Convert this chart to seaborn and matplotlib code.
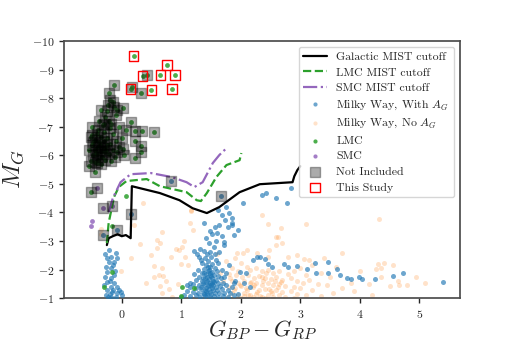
import matplotlib
matplotlib.use("Agg")
import matplotlib.pyplot as plt
import seaborn as sns

# ── Data ───────────────────────────────────────────────────────────────────────
# MIST cutoff tracks
gal_x = [-0.25, -0.22, -0.15, -0.07, 0.00, 0.07, 0.15, 0.17, 0.64, 0.97, 1.19,
         1.43, 1.64, 1.98, 2.32, 2.87, 2.90, 2.95, 3.00]
gal_y = [-2.86, -3.10, -3.17, -3.24, -3.17, -3.21, -3.10, -4.92, -4.68, -4.43,
         -4.15, -3.98, -4.19, -4.71, -4.99, -5.06, -5.27, -5.48, -5.62]

lmc_line_x = [-0.25, -0.22, -0.13, -0.05, 0.08, 0.42, 0.64, 1.09, 1.26, 1.33,
              1.43, 1.59, 1.76, 1.98, 2.01]
lmc_line_y = [-2.93, -3.63, -4.54, -4.89, -5.10, -5.17, -4.92, -4.71, -4.43,
              -4.40, -4.68, -5.24, -5.66, -5.83, -6.08]

smc_line_x = [-0.22, -0.15, -0.02, 0.15, 0.49, 0.84, 1.09, 1.22, 1.36, 1.53,
              1.64, 1.76]
smc_line_y = [-4.01, -4.50, -5.06, -5.34, -5.38, -5.24, -5.06, -4.89, -5.06,
              -5.73, -6.01, -6.25]

# Milky Way, with extinction
mw_x = [-0.22, -0.10, -0.18, -0.25, -0.08, -0.13, -0.22, -0.27, -0.18, -0.25,
        -0.13, -0.18, -0.25, -0.13, -0.18, -0.08, -0.25, -0.17, -0.08, -0.27,
        -0.18, -0.02, 0.00, -0.10, -0.30, -0.20, -0.28, -0.12, -0.20, -0.15,
        -0.23, -0.05, -0.28, -0.15,
        1.68, 1.81, 1.73, 1.64, 1.78, 1.86, 1.56, 1.39, 1.48, 1.52, 1.60, 1.68,
        1.42, 1.58, 1.71, 1.46, 1.55, 1.72, 1.31, 1.22, 1.39, 1.27, 1.48, 1.64,
        1.88, 1.95, 1.62, 1.75, 1.85,
        1.30, 1.40, 1.50, 1.58, 1.45, 1.35, 1.52, 1.62, 1.42, 1.48, 1.56, 1.38,
        1.28, 1.45, 1.52, 1.60, 1.68, 1.35, 1.42, 1.48, 1.55, 1.62, 1.30, 1.40,
        1.46, 1.52, 1.58, 1.66, 1.72, 1.25, 1.35, 1.42, 1.48, 1.55, 1.62, 1.70,
        1.20, 1.30, 1.38, 1.45, 1.50, 1.58, 1.65, 1.75, 1.15, 1.25, 1.33, 1.40,
        1.47, 1.53, 1.60, 1.68, 1.78, 1.10, 1.20, 1.28, 1.36, 1.44, 1.50, 1.57,
        1.64, 1.72, 1.82, 1.05, 1.15, 1.24, 1.32, 1.40, 1.48, 1.55, 1.62, 1.70,
        1.78, 1.88, 1.00, 1.95, 1.85, 1.90, 1.15, 1.10, 1.22, 1.75, 1.80, 1.34,
        1.44, 1.56,
        1.43, 1.47, 1.51, 1.37, 1.41, 1.49, 1.54, 1.44, 1.39, 1.46, 1.52, 1.34,
        1.43, 1.48, 1.36, 1.53, 1.45, 1.41, 1.50, 1.38,
        2.03, 2.35, 2.43, 2.60, 2.77, 2.85, 1.86,
        1.98, 2.08, 1.88, 2.20, 2.27, 2.33, 2.40, 2.45, 2.53, 2.73, 2.80, 2.94,
        3.12, 3.24, 3.27, 3.47, 3.46, 3.61, 3.66, 3.78, 3.86, 3.98, 4.04, 4.26,
        4.55, 4.73, 5.39, 2.05, 2.15]
mw_y = [-2.68, -2.58, -2.44, -2.40, -2.40, -2.26, -2.26, -2.09, -2.05, -1.91,
        -1.81, -1.70, -1.56, -1.53, -1.39, -1.39, -1.28, -1.21, -1.18, -1.11,
        -1.04, -1.21, -1.11, -1.04, -1.45, -1.62, -1.75, -1.95, -1.15, -1.30,
        -1.05, -1.30, -2.55, -2.15,
        -3.91, -3.98, -3.75, -3.56, -3.50, -3.56, -3.50, -3.63, -3.35, -3.24,
        -3.28, -3.17, -3.10, -3.00, -2.98, -2.93, -2.80, -2.86, -2.72, -2.65,
        -2.65, -2.55, -2.62, -2.62, -3.20, -3.40, -4.10, -4.20, -3.80,
        -2.45, -2.40, -2.45, -2.35, -2.30, -2.25, -2.20, -2.25, -2.15, -2.08,
        -2.05, -2.02, -2.00, -1.95, -1.92, -1.95, -2.00, -1.88, -1.85, -1.80,
        -1.82, -1.78, -1.75, -1.72, -1.68, -1.70, -1.65, -1.70, -1.75, -1.65,
        -1.60, -1.58, -1.55, -1.58, -1.55, -1.52, -1.50, -1.48, -1.45, -1.42,
        -1.45, -1.40, -1.42, -1.45, -1.38, -1.35, -1.32, -1.30, -1.33, -1.28,
        -1.30, -1.32, -1.30, -1.25, -1.22, -1.20, -1.18, -1.20, -1.15, -1.18,
        -1.20, -1.18, -1.20, -1.10, -1.08, -1.10, -1.06, -1.08, -1.05, -1.08,
        -1.05, -1.08, -1.05, -1.10, -1.03, -1.15, -1.40, -1.60, -1.55, -1.45,
        -1.85, -1.90, -2.15, -2.35, -2.55, -2.55,
        -1.62, -1.48, -1.36, -1.52, -1.25, -1.22, -1.60, -1.75, -1.90, -1.98,
        -1.55, -1.40, -1.12, -1.90, -1.70, -1.45, -2.10, -1.35, -1.78, -1.15,
        -4.33, -4.60, -4.68, -4.50, -4.33, -4.85, -3.63,
        -1.91, -1.88, -1.53, -2.33, -2.44, -2.44, -2.37, -2.19, -2.09, -2.19,
        -2.09, -2.12, -2.02, -2.23, -1.88, -2.26, -1.88, -2.02, -1.81, -1.70,
        -1.67, -1.74, -1.67, -1.67, -1.77, -1.88, -1.56, -1.55, -1.40]

# Milky Way, no extinction
mw0_x = [0.35, 1.17, 2.35, 2.45, 3.09, 4.33, 2.62, 2.60, -0.35, 0.67, 0.60, 0.65,
         0.59, 0.92, 0.49, 0.82, 0.55, 0.67, 0.54, 0.62, 0.70, 0.74, 0.65, 0.67,
         0.79, -0.02, 0.40, 0.85, 0.30, 1.00, 0.95, 1.05, 0.20, -0.35, 0.15,
         1.17, 1.14, 1.19, 1.02, 0.96, 1.06, 1.11, 2.68, 2.60, 2.70, 2.48, 2.28,
         2.10, 1.93, 2.03, 2.45, 2.79, 3.07,
         1.75, 1.90, 2.00, 2.10, 1.85, 1.95, 2.15, 2.25, 2.35, 2.45, 2.55, 2.65,
         2.80, 2.90, 3.00, 3.10, 3.20, 3.35, 3.50, 3.60, 1.80, 1.92, 2.02, 2.12,
         2.22, 2.30, 2.40, 2.50, 2.60, 2.70, 2.85, 2.95, 3.05, 3.15, 3.30, 3.45,
         1.85, 1.95, 2.05, 2.15, 2.25, 2.35, 2.45, 2.55, 2.65, 2.75, 2.90, 3.00,
         3.20, 1.80, 1.90, 2.00, 2.10, 2.20, 2.30, 2.40, 2.50, 2.60, 2.70, 2.85,
         2.95, 3.10, 1.85, 1.95, 2.05, 2.15, 2.25, 2.35, 2.45, 2.55, 2.65, 2.75,
         2.90, 1.78, 2.00, 2.20, 2.40, 3.35, 3.55, 3.70, 3.85, 4.00, 4.15, 4.30,
         4.40, 4.55, 4.65, 4.80, 4.95, 5.10, 3.90, 4.20, 3.40, 3.70, 2.95, 3.15,
         1.70, 1.65, 1.60, 4.50, 4.66, 4.36, 4.28, 4.36,
         1.88, 2.08, 2.18, 2.28, 2.38, 2.52, 2.62, 1.98, 2.32, 2.42, 2.58, 2.12,
         2.22, 2.48, 1.82, 2.68, 2.05, 2.35]
mw0_y = [-4.33, -4.05, -3.91, -3.59, -3.59, -3.77, -3.14, -2.86, -3.42, -3.31,
         -3.03, -2.95, -2.75, -2.72, -2.51, -2.44, -2.12, -2.05, -1.74, -1.81,
         -1.77, -1.60, -1.42, -1.18, -1.32, -1.95, -1.55, -1.05, -2.90, -2.20,
         -1.50, -3.00, -3.55, -3.25, -2.40,
         -4.08, -3.63, -3.38, -2.79, -2.68, -2.44, -2.16, -3.45, -3.14, -2.93,
         -2.68, -2.58, -2.68, -2.58, -2.58, -2.44, -2.44, -2.37,
         -2.30, -2.40, -2.25, -2.10, -2.05, -1.95, -1.98, -2.05, -1.95, -2.00,
         -1.90, -1.95, -1.85, -1.95, -2.05, -1.80, -2.15, -1.90, -1.75, -2.10,
         -1.85, -1.80, -1.75, -1.82, -1.70, -1.78, -1.72, -1.68, -1.75, -1.65,
         -1.70, -1.62, -1.55, -1.65, -1.50, -1.45, -1.60, -1.55, -1.62, -1.52,
         -1.55, -1.48, -1.52, -1.45, -1.50, -1.42, -1.40, -1.35, -1.30, -1.40,
         -1.35, -1.42, -1.30, -1.38, -1.28, -1.32, -1.25, -1.30, -1.22, -1.25,
         -1.15, -1.12, -1.18, -1.12, -1.20, -1.10, -1.15, -1.05, -1.10, -1.05,
         -1.12, -1.05, -1.02, -1.05, -1.02, -1.03, -1.02, -1.08, -1.20, -1.35,
         -1.55, -1.95, -1.50, -2.20, -2.25, -2.15, -1.60, -1.45, -1.75, -1.55,
         -1.25, -1.10, -2.40, -2.60, -2.50, -2.35, -1.60, -1.90, -2.55, -1.42,
         -1.46, -1.74, -2.02, -2.05,
         -1.28, -1.35, -1.58, -1.22, -1.62, -1.18, -1.40, -1.48, -1.08, -1.88,
         -1.62, -1.12, -1.45, -1.32, -1.70, -1.58, -1.08, -1.75]

# LMC / SMC stars drawn as plain dots (outside the squares)
lmc_x = [0.07, -0.17, -0.17, -0.29, 1.02, 1.00, 1.22]
lmc_y = [-4.57, -3.52, -1.91, -1.39, -1.39, -1.07, -1.35]
smc_x = [-0.50, -0.52]
smc_y = [-3.70, -3.52]

# Not included: squares around LMC stars
excl_lmc_x = [-0.13, -0.22, 0.17, 0.32, 0.42, -0.20, -0.23, -0.13, -0.34, -0.08,
              0.02, 0.15, 0.22, 0.34, 0.55, -0.50, -0.52, 0.08, 0.22, 0.32, 0.32,
              0.02, 0.03, 0.22, -0.55, -0.45, -0.42, -0.52,
              -0.40, -0.45, -0.35, -0.42, -0.30, -0.50, -0.38, -0.28, -0.48,
              -0.33, -0.40, -0.25, -0.45, -0.35, -0.30, -0.40, -0.25, -0.20,
              -0.32, -0.22, -0.28, -0.18, -0.15, -0.10, -0.20, -0.15, -0.22,
              -0.12, -0.05, -0.50, -0.55, -0.52, -0.45, -0.35, -0.28, -0.18,
              -0.08, 0.00, -0.05, -0.10, -0.25, -0.15, -0.30, -0.38, -0.42,
              -0.48, -0.30, -0.36, -0.44, -0.26]
excl_lmc_y = [-8.46, -8.18, -8.39, -8.18, -8.81, -7.93, -7.76, -7.69, -7.58,
              -7.58, -7.65, -7.16, -6.85, -6.85, -6.81, -6.99, -6.64, -6.88,
              -6.50, -6.32, -6.11, -6.22, -6.01, -5.90, -5.62, -5.41, -5.73,
              -4.71,
              -6.30, -6.20, -6.15, -6.05, -6.25, -6.35, -6.45, -6.10, -6.00,
              -5.95, -5.85, -6.35, -6.55, -6.65, -6.80, -6.90, -6.60, -6.95,
              -7.05, -7.20, -7.35, -7.10, -6.75, -6.50, -6.40, -6.20, -6.05,
              -5.95, -6.30, -6.70, -6.20, -5.80, -5.75, -5.70, -5.85, -5.80,
              -6.10, -6.60, -7.00, -7.40, -7.55, -7.85, -7.10, -7.20, -6.75,
              -6.45, -6.50, -6.35, -6.12, -6.20]
excl_smc_x = [-0.42, -0.32, -0.17]
excl_smc_y = [-4.85, -4.15, -4.22]
excl_mw_x = [0.15, -0.32, -0.08, 0.82, 1.66]
excl_mw_y = [-3.94, -3.21, -3.38, -5.10, -4.57]

# This study (LMC stars)
study_x = [0.20, 0.76, 0.35, 0.65, 0.89, 0.15, 0.50, 0.84]
study_y = [-9.47, -9.16, -8.77, -8.81, -8.81, -8.32, -8.28, -8.32]

# ── Style ──────────────────────────────────────────────────────────────────────
sns.set_theme(style="ticks")
plt.rcParams["font.family"] = ["serif"]
plt.rcParams["font.serif"] = ["cmr10", "DejaVu Serif"]
plt.rcParams["mathtext.fontset"] = "cm"
plt.rcParams["axes.formatter.use_mathtext"] = True
plt.rcParams["axes.unicode_minus"] = True

pal = sns.color_palette("tab10")
c_mw, c_mw0, c_lmc, c_smc = pal[0], pal[1], pal[2], pal[4]

fig, ax = plt.subplots(figsize=(5.12, 3.42), dpi=100)
fig.subplots_adjust(left=0.125, right=0.898, bottom=0.128, top=0.88)

# cutoff tracks
sns.lineplot(x=gal_x, y=gal_y, sort=False, estimator=None, color="black",
             linewidth=1.6, label="Galactic MIST cutoff", ax=ax, zorder=5)
sns.lineplot(x=lmc_line_x, y=lmc_line_y, sort=False, estimator=None,
             color=c_lmc, linewidth=1.6, linestyle="--",
             label="LMC MIST cutoff", ax=ax, zorder=5)
sns.lineplot(x=smc_line_x, y=smc_line_y, sort=False, estimator=None,
             color=c_smc, linewidth=1.6, linestyle="-.",
             label="SMC MIST cutoff", ax=ax, zorder=5)

# stars
sns.scatterplot(x=mw_x + excl_mw_x, y=mw_y + excl_mw_y, color=c_mw, s=13,
                alpha=0.65, linewidth=0, label="Milky Way, With $A_G$",
                ax=ax, zorder=3)
sns.scatterplot(x=mw0_x, y=mw0_y, color=c_mw0, s=13, alpha=0.22, linewidth=0,
                label="Milky Way, No $A_G$", ax=ax, zorder=2)
sns.scatterplot(x=lmc_x + excl_lmc_x + study_x, y=lmc_y + excl_lmc_y + study_y,
                color=c_lmc, s=12, alpha=0.85, linewidth=0, label="LMC",
                ax=ax, zorder=4)
sns.scatterplot(x=smc_x + excl_smc_x, y=smc_y + excl_smc_y, color=c_smc, s=12,
                alpha=0.85, linewidth=0, label="SMC", ax=ax, zorder=4)

# selection markers
sns.scatterplot(x=excl_lmc_x + excl_smc_x + excl_mw_x,
                y=excl_lmc_y + excl_smc_y + excl_mw_y,
                marker="s", s=48, color="black", edgecolor="black",
                linewidth=1.0, alpha=0.33, label="Not Included", ax=ax,
                zorder=6)
sns.scatterplot(x=study_x, y=study_y, marker="s", s=48, facecolors="none",
                edgecolor="red", linewidth=1.0, label="This Study", ax=ax,
                zorder=7)

ax.set_xlim(-0.97, 5.68)
ax.set_ylim(-1, -10)
ax.set_yticks(range(-10, 0))
ax.set_xticks(range(0, 6))
ax.tick_params(labelsize=8.5, length=3.5, width=1.0)
for sp in ax.spines.values():
    sp.set_color("0.3")
ax.set_xlabel("$G_{BP} - G_{RP}$", fontsize=16, labelpad=-1)
ax.set_ylabel("$M_G$", fontsize=18, labelpad=4)

leg = ax.legend(loc="upper right", fontsize=8.5, frameon=True, framealpha=0.8,
                borderpad=0.4, labelspacing=0.45, handlelength=2.0)
leg.get_frame().set_edgecolor("0.8")
for h in leg.legend_handles[3:7]:
    h.set_sizes([9])

fig.savefig("out.png", dpi=100)
